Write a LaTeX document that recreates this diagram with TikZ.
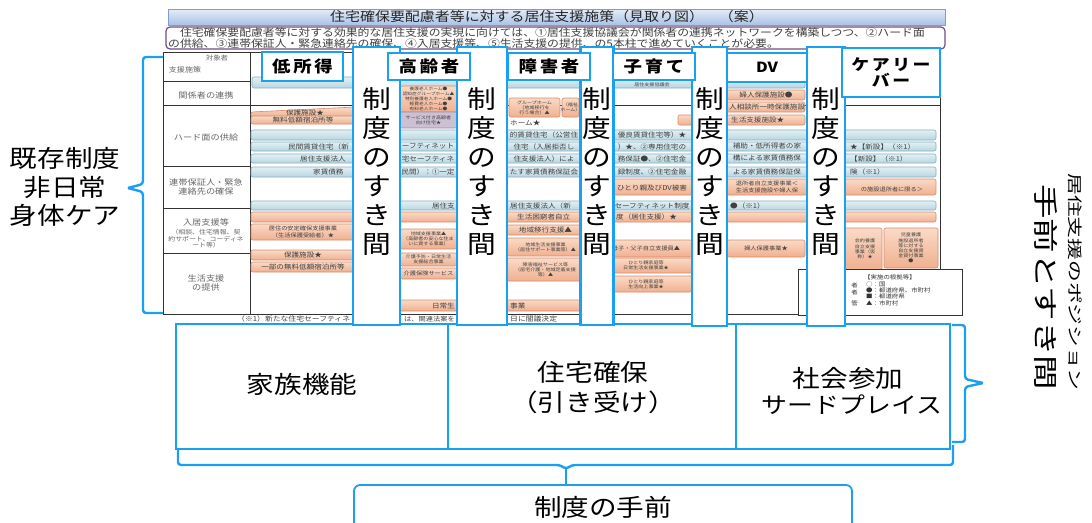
\documentclass[tikz,border=0pt]{standalone}
\usepackage{fontspec}
\setmainfont[FakeStretch=1.15]{Noto Sans CJK JP}
\definecolor{skyb}{RGB}{25,160,240}
\definecolor{bbfill}{RGB}{184,214,224}
\definecolor{bbtop}{RGB}{226,240,244}
\definecolor{bbdraw}{RGB}{135,175,192}
\definecolor{obfill}{RGB}{240,176,144}
\definecolor{obtop}{RGB}{250,218,198}
\definecolor{obdraw}{RGB}{214,140,110}
\definecolor{lav}{RGB}{205,192,210}
\definecolor{lavd}{RGB}{160,140,170}
\definecolor{ttop}{RGB}{228,236,248}
\definecolor{tbot}{RGB}{170,194,230}
\definecolor{tdraw}{RGB}{130,155,200}
\definecolor{introd}{RGB}{110,80,128}
\newcommand\bx[8][tt]{\path[#2] (#4,#5) rectangle (#6,#7); \node[#1] (#3) at ({(#4+#6)/2},{(#5+#7)/2}) {#8};}
\begin{document}
\begin{tikzpicture}[x=1pt,y=-1pt,
 tbl/.style={draw=black!80, line width=1pt},
 bb/.style={draw=bbdraw, line width=0.6pt, top color=bbtop, bottom color=bbfill, rounded corners=2pt},
 ob/.style={draw=obdraw, line width=0.6pt, top color=obtop, bottom color=obfill, rounded corners=2pt},
 lv/.style={draw=lavd, line width=0.6pt, fill=lav, rounded corners=2pt},
 tt/.style={inner sep=0, align=center, text=black!75, font=\fontsize{6.6}{7.4}\selectfont},
 ts/.style={inner sep=0, align=center, text=black!75, font=\fontsize{4.4}{5.1}\selectfont},
 tx/.style={inner sep=0, align=center, text=black!75, font=\fontsize{4.1}{5}\selectfont},
 tm/.style={inner sep=0, align=center, text=black!75, font=\fontsize{5.4}{6.2}\selectfont},
 tl/.style={inner sep=0, align=center, text=black!80, font=\fontsize{5.6}{6}\selectfont},
 lc/.style={inner sep=0, align=center, text=black!60, font=\fontsize{8}{9.5}\selectfont},
 gapb/.style={draw=skyb, line width=2.6pt, fill=white, inner sep=0},
 gapt/.style={inner sep=0, align=center, font=\fontsize{25}{29}\selectfont},
 hdr/.style={draw=skyb, line width=2.6pt, fill=white, inner sep=0, align=center, font=\bfseries\fontsize{16}{17}\selectfont},
 cell/.style={draw=skyb, line width=1.6pt, inner sep=0},
 big/.style={inner sep=0, align=center, font=\fontsize{24}{30}\selectfont},
 brace/.style={draw=skyb, line width=2.4pt, rounded corners=3pt},
]
\useasboundingbox[fill=white] (0,0) rectangle (1092,522);

% ---------- title and intro ----------
\node[draw=tdraw, line width=0.8pt, top color=ttop, bottom color=tbot, minimum width=777pt, minimum height=16pt, inner sep=0] (title) at (556.5,17) {};
\node[inner sep=0, font=\fontsize{13}{14}\selectfont, text=black!85] (titlet) at (547,17) {住宅確保要配慮者等に対する居住支援施策（見取り図）　（案）};
\node[draw=introd, line width=1.2pt, rounded corners=4pt, fill=white, minimum width=779pt, minimum height=22pt, inner sep=0] (intro) at (555.5,38) {};
\node[inner sep=0, anchor=north west, align=left, text=black!75, font=\fontsize{10.3}{10.2}\selectfont] (introt) at (168,28) {　住宅確保要配慮者等に対する効果的な居住支援の実現に向けては、①居住支援協議会が関係者の連携ネットワークを構築しつつ、②ハード面\\の供給、③連帯保証人・緊急連絡先の確保、④入居支援等、⑤生活支援の提供、の5本柱で進めていくことが必要。};

% ---------- table ----------
\draw[tbl] (163,52) rectangle (940,314);
\draw[tbl] (250,52) -- (250,314);
\draw[tbl] (163,81) -- (250,81);
\draw[tbl] (163,105) -- (940,105);
\draw[tbl] (163,166) -- (250,166);
\draw[tbl] (163,208) -- (250,208);
\draw[tbl] (163,253) -- (250,253);

\node[lc, font=\fontsize{6.5}{7}\selectfont] (l0a) at (217,58) {対象者};
\node[lc, font=\fontsize{7}{8}\selectfont] (l0b) at (185,70) {支援施策};
\node[lc] (l1) at (206,95) {関係者の連携};
\node[lc] (l2) at (206,137) {ハード面の供給};
\node[lc] (l3) at (206,187) {連帯保証人・緊急\\連絡先の確保};
\node[lc] (l4) at (206,222) {入居支援等};
\node[lc, font=\fontsize{6}{6.6}\selectfont] (l4b) at (206,239) {（相談、住宅情報、契\\約サポート、コーディネ\\ート等）};
\node[lc] (l5) at (206,283) {生活支援\\の提供};

% row: 関係者の連携
\path[bb] (252,77) rectangle (805,88);
\node[ts] (k1) at (652,84.5) {居住支援協議会};

% row: ハード面の供給
\path[ob] (251,117) -- (251,112) -- (355,107) -- (355,117) -- cycle;
\node[tt] (k2) at (305,113) {保護施設★};
\bx{ob}{k3}{251}{116}{355}{124}{無料低額宿泊所等}
\bx[tx]{ob}{k4}{400}{86}{457}{112}{養護老人ホーム●\\認知症グループホーム▲\\特別養護老人ホーム●\\軽費老人ホーム●\\有料老人ホーム●}
\bx[ts]{lv}{k5}{400}{112}{457}{128}{サービス付き高齢者\\向け住宅★}
\bx[ts]{ob}{k6}{509}{98}{560}{117}{グループホーム\\（地域移行を\\行う場合）▲}
\bx[ts]{ob}{k7}{562}{98}{579}{117}{（福祉\\ホーム）}
\node[tt, anchor=west] (k8) at (510,123) {ホーム★};
\bx{ob}{k9}{727}{90}{805}{100}{婦人保護施設●}
\path[ob] (700,102) rectangle (805,112);
\node[tt, anchor=west] (k10) at (729,107) {人相談所一時保護施設};
\path[ob] (678,115) rectangle (805,125);
\node[tt, anchor=west] (k11) at (731,120) {生活支援施設★};

\path[bb] (251,130) rectangle (936,140);
\node[tt] (k12a) at (544,135) {的賃貸住宅（公営住};
\node[tt] (k12b) at (652,135) {優良賃貸住宅等）★};

\path[bb] (251,142) rectangle (936,151);
\node[tt, anchor=west] (k13a) at (288,146.5) {民間賃貸住宅（新};
\node[tt] (k13b) at (428,146.5) {ーフティネット};
\node[tt] (k13c) at (544,146.5) {住宅（入居拒否し};
\node[tt] (k13d) at (652,146.5) {）★、②専用住宅の};
\node[tt] (k13e) at (767,146.5) {補助・低所得者の家};
\node[tt, anchor=west] (k13f) at (850,146.5) {★【新設】（※1）};

% row: 連帯保証人
\path[bb] (251,154) rectangle (936,163);
\node[tt, anchor=west] (k14a) at (300,158.5) {居住支援法人};
\node[tt] (k14b) at (428,158.5) {宅セーフティネ};
\node[tt] (k14c) at (544,158.5) {住支援法人）によ};
\node[tt] (k14d) at (652,158.5) {務保証●、②住宅金};
\node[tt] (k14e) at (767,158.5) {構による家賃債務保};
\node[tt, anchor=west] (k14f) at (850,158.5) {【新設】（※1）};

\path[bb] (251,167) rectangle (936,177);
\node[tt, anchor=west] (k15a) at (313,172) {家賃債務};
\node[tt] (k15b) at (428,172) {民間）：①一定};
\node[tt] (k15c) at (544,172) {たす家賃債務保証会};
\node[tt] (k15d) at (652,172) {録制度、②住宅金融};
\node[tt] (k15e) at (767,172) {よる家賃債務保証保};
\node[tt, anchor=west] (k15f) at (850,172) {険（※1）};

\path[ob] (590,179) rectangle (936,195);
\node[tt] (k16a) at (652,188) {ひとり親及びDV被害};
\node[tm] (k16b) at (767,187) {退所者自立支援事業＜\\生活支援施設や婦人保};
\node[tm] (k16c) at (892,189) {の施設退所者に限る＞};

% row: 入居支援等
\path[bb] (251,201) rectangle (936,210);
\node[tt, anchor=east] (k17a) at (455,205.5) {居住支};
\node[tt, anchor=west] (k17b) at (510,205.5) {居住支援法人（新};
\node[tt] (k17c) at (652,205.5) {セーフティネット制度};
\node[tt, anchor=west] (k17d) at (730,205.5) {●（※1）};

\path[ob] (251,212) rectangle (936,222);
\node[tt, anchor=west] (k18a) at (517,217) {生活困窮者自立};
\node[tt, anchor=west] (k18b) at (616,217) {度（居住支援）★};

\bx[tm]{ob}{k19}{251}{224}{355}{240}{居住の安定確保支援事業\\（生活保護受給者）★};
\bx[ts]{ob}{k20}{400}{229}{457}{249}{地域支援事業▲\\（高齢者の安心な住ま\\いに資する事業）}
\bx{ob}{k21}{507}{225}{584}{235}{地域移行支援▲}
\bx[ts]{ob}{k22}{507}{238}{584}{256}{地域生活支援事業\\（居住サポート事業等）▲}
\bx[tm]{ob}{k23}{600}{240}{692}{257}{母子・父子自立支援員▲}
\bx[tm]{ob}{k24}{727}{240}{805}{257}{婦人保護事業★}
\path[ob] (822,228) rectangle (882,270);
\node[ts] (k25) at (865,249) {会的養護\\自立支援\\事業（仮\\称）★};
\bx[ts]{ob}{k26}{884}{228}{938}{268}{児童養護\\施設退所者\\等に対する\\自立支援資\\金貸付事業\\●}

% row: 生活支援の提供
\bx{ob}{k27}{251}{250}{355}{260}{保護施設★}
\bx{ob}{k28}{251}{262}{355}{272}{一部の無料低額宿泊所等}
\bx[ts]{ob}{k29}{400}{253}{457}{266}{介護予防・日常生活\\支援総合事業}
\bx[tm]{ob}{k30}{400}{268}{457}{279}{介護保険サービス}
\bx[ts]{ob}{k31}{507}{258}{584}{281}{障害福祉サービス等\\（居宅介護・地域定着支援\\等）▲}
\bx[ts]{ob}{k32}{600}{258}{692}{273}{ひとり親家庭等\\日常生活支援事業★}
\bx[ts]{ob}{k33}{600}{276}{692}{292}{ひとり親家庭等\\生活向上事業★}
\path[ob] (380,300) rectangle (582,311);
\node[tt, anchor=east] (k34a) at (455,305.5) {日常生};
\node[tt, anchor=west] (k34b) at (510,305.5) {事業};

% legend
\node[draw=black!80, line width=0.9pt, fill=white, minimum width=164pt, minimum height=46pt, inner sep=0] (lg) at (880,292) {};
\node[tl, anchor=west] (lg1) at (864,277) {【実施の根拠等】};
\node[tl, anchor=west] (lg2) at (866,284.5) {○：国};
\node[tl, anchor=west] (lg3) at (866,290.5) {●：都道府県、市町村};
\node[tl, anchor=west] (lg4) at (866,296.5) {■：都道府県};
\node[tl, anchor=west] (lg5) at (866,303.5) {▲：市町村};
\node[tl, anchor=east] (lg6) at (858,285) {者};
\node[tl, anchor=east] (lg7) at (858,292) {者};
\node[tl, anchor=east] (lg8) at (858,303.5) {管};

\node[tt, anchor=west, font=\fontsize{6.8}{7}\selectfont] (fn1) at (237,319) {（※1）新たな住宅セーフティネ};
\node[tt, anchor=east, font=\fontsize{6.3}{7}\selectfont] (fn2) at (455,319) {は、関連法案を};
\node[tt, anchor=west, font=\fontsize{6.8}{7}\selectfont] (fn3) at (510,319) {日に閣議決定};

% ---------- bottom cells ----------
\node[cell, minimum width=272pt, minimum height=125pt] (c1) at (312,386.5) {};
\node[cell, minimum width=288pt, minimum height=125pt] (c2) at (592,386.5) {};
\node[cell, minimum width=214pt, minimum height=125pt] (c3) at (843,386.5) {};
\node[big] (c1t) at (302,384) {家族機能};
\node[big] (c2t) at (593,388) {住宅確保\\（引き受け）};
\node[big] (c3t) at (848,378) {社会参加};
\node[big, font=\fontsize{22.5}{24}\selectfont] (c3u) at (852,405) {サードプレイス};

\node[draw=skyb, line width=1.8pt, rounded corners=6pt, minimum width=498pt, minimum height=50pt, inner sep=0] (bot) at (603,510) {};
\node[big] (bott) at (603,507) {制度の手前};

% ---------- gap boxes ----------
\node[gapb, minimum width=47pt, minimum height=278pt] (g1) at (376.5,186) {};
\node[gapb, minimum width=50pt, minimum height=278pt] (g2) at (482,186) {};
\node[gapb, minimum width=33pt, minimum height=278pt] (g3) at (597,186) {};
\node[gapb, minimum width=35pt, minimum height=279pt] (g4) at (709.5,186.5) {};
\node[gapb, minimum width=38pt, minimum height=279pt] (g5) at (826,186.5) {};
\foreach \n/\x in {1/376.5,2/482,3/597,4/709.5,5/826}{
  \node[gapt] (gt\n) at (\x,172) {制\\度\\の\\す\\き\\間};
}

% ---------- header boxes ----------
\node[hdr, minimum width=81pt, minimum height=29pt] (h1) at (302.5,66.5) {低\,所\,得};
\node[hdr, minimum width=82pt, minimum height=27pt] (h2) at (429,66.5) {高\,齢\,者};
\node[hdr, minimum width=82pt, minimum height=27pt] (h3) at (549,66.5) {障\,害\,者};
\node[hdr, minimum width=82pt, minimum height=27pt] (h4) at (654,66.5) {子\,育\,て};
\node[hdr, minimum width=80pt, minimum height=29pt, font=\bfseries\fontsize{14}{15}\selectfont] (h5) at (767,67.5) {DV};
\node[hdr, minimum width=98pt, minimum height=49pt, font=\bfseries\fontsize{15.5}{15.5}\selectfont] (h6) at (891,72.5) {ケ\,ア\,リ\,ー\\バ\,ー};

% ---------- left brace and text ----------
\draw[brace] (163,57) -- (143,57) -- (143,184) -- (128,188);
\draw[brace] (128,188) -- (143,192) -- (143,313) -- (163,313);
\node[big, font=\fontsize{24}{28.5}\selectfont] (lt) at (65,187) {既存制度\\非日常\\身体ケア};

% ---------- bottom brace ----------
\coordinate (btick) at (566,468);
\draw[brace] (178,450) -- (178,465) -- (560,465) -- (566,469) -- (572,465) -- (953,465) -- (953,445);
\draw[brace] (btick) -- (btick |- bot.north);

% ---------- right bracket and vertical text ----------
\draw[brace] (952,325) -- (965,325) -- (965,379) -- (983,383);
\draw[brace] (983,383) -- (965,387) -- (965,442) -- (952,442);
\node[rotate=-90, inner sep=0] (rt1) at (1075,282) {\scalebox{1.26}[1]{\fontsize{15}{15}\selectfont 居住支援のポジション}};
\node[rotate=-90, inner sep=0] (rt2) at (1046,287) {\scalebox{1.2}[1]{\fontsize{25}{25}\selectfont 手前とすき間}};
\end{tikzpicture}
\end{document}
